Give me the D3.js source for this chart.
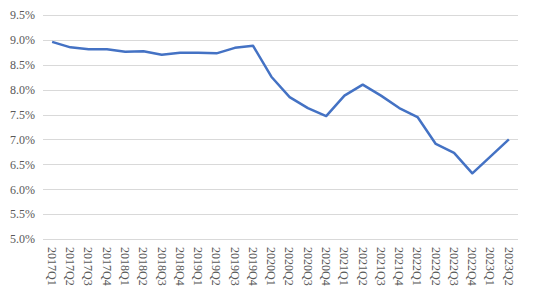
<!DOCTYPE html>
<html>
<head>
<meta charset="utf-8">
<script src="https://cdn.jsdelivr.net/npm/d3@7"></script>
<style>
  body { margin: 0; background: #fff; }
  .canvas text { font-family: "Liberation Serif", "Times New Roman", serif; font-size: 12px; fill: #595959; }
</style>
</head>
<body>
<div class="canvas"></div>
<script>
// data
const quarters = ['2017Q1','2017Q2','2017Q3','2017Q4','2018Q1','2018Q2','2018Q3','2018Q4',
    '2019Q1','2019Q2','2019Q3','2019Q4','2020Q1','2020Q2','2020Q3','2020Q4',
    '2021Q1','2021Q2','2021Q3','2021Q4','2022Q1','2022Q2','2022Q3','2022Q4','2023Q1','2023Q2'];
const rates = [8.96, 8.85, 8.81, 8.81, 8.76, 8.77, 8.70, 8.74,
    8.74, 8.73, 8.84, 8.88, 8.26, 7.85, 7.63, 7.47,
    7.88, 8.10, 7.88, 7.63, 7.45, 6.91, 6.73, 6.32, 6.66, 7.00];
const yTicks = [5.0, 5.5, 6.0, 6.5, 7.0, 7.5, 8.0, 8.5, 9.0, 9.5];

const width = 554, height = 296;
const margin = { top: 15, right: 36, bottom: 57, left: 43 };
const graphWidth = width - margin.left - margin.right;
const graphHeight = height - margin.top - margin.bottom;

const svg = d3.select('.canvas')
    .append('svg')
    .attr('width', width)
    .attr('height', height);

const graph = svg.append('g')
    .attr('transform', `translate(${margin.left}, ${margin.top})`);

// scales
const xScale = d3.scaleBand()
    .domain(quarters)
    .range([0, graphWidth]);

const yScale = d3.scaleLinear()
    .domain([5.0, 9.5])
    .range([graphHeight, 0]);

// gridlines
graph.selectAll('line.grid')
    .data(yTicks)
    .enter()
    .append('line')
    .attr('class', 'grid')
    .attr('x1', 0)
    .attr('x2', graphWidth)
    .attr('y1', d => Math.round(yScale(d)) + 0.5)
    .attr('y2', d => Math.round(yScale(d)) + 0.5)
    .attr('stroke', '#d9d9d9')
    .attr('stroke-width', 1);

// y axis labels
const yAxis = d3.axisLeft(yScale)
    .tickValues(yTicks)
    .tickFormat(d => d.toFixed(1) + '%')
    .tickSize(0)
    .tickPadding(8);

const yG = graph.append('g').call(yAxis);
yG.select('.domain').remove();

// x axis labels (rotated)
const xAxis = d3.axisBottom(xScale).tickSize(0);
const xG = graph.append('g')
    .attr('transform', `translate(0, ${graphHeight})`)
    .call(xAxis);
xG.select('.domain').remove();
xG.selectAll('text')
    .attr('transform', 'rotate(90)')
    .attr('x', 8)
    .attr('y', 0)
    .attr('dy', '0.35em')
    .attr('text-anchor', 'start');

// line
const line = d3.line()
    .x((d, i) => xScale(quarters[i]) + xScale.bandwidth() / 2)
    .y(d => yScale(d));

graph.append('path')
    .datum(rates)
    .attr('fill', 'none')
    .attr('stroke', '#4472c4')
    .attr('stroke-width', 2.5)
    .attr('stroke-linejoin', 'round')
    .attr('d', line);
</script>
</body>
</html>
